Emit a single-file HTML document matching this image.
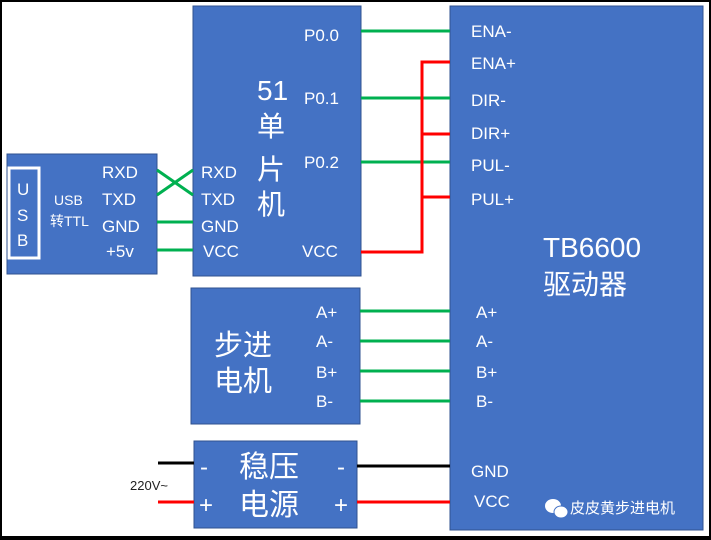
<!DOCTYPE html>
<html><head><meta charset="utf-8"><style>
body{margin:0;width:711px;height:540px;overflow:hidden;background:#fff}
svg{display:block}
text{font-family:"Liberation Sans","Noto Sans CJK SC",sans-serif;fill:#fff}
</style></head><body>
<svg width="711" height="540" viewBox="0 0 711 540">
<rect x="1" y="1" width="709" height="536" fill="#fff" stroke="#000" stroke-width="2"/>
<line x1="0" y1="538" x2="711" y2="538" stroke="#000" stroke-width="4"/>
<g fill="#4472c4" stroke="#2f528f" stroke-width="1">
<rect x="7" y="154" width="150" height="120"/>
<rect x="193" y="6" width="168" height="270"/>
<rect x="450" y="6" width="253" height="524"/>
<rect x="191" y="288" width="169" height="136"/>
<rect x="194" y="441" width="163" height="87"/>
</g>
<rect x="9" y="168" width="30" height="90" fill="none" stroke="#fff" stroke-width="3"/>
<g stroke="#00b050" stroke-width="3" fill="none">
<line x1="157" y1="170" x2="193" y2="195"/><line x1="157" y1="195" x2="193" y2="170"/>
<line x1="157" y1="222" x2="193" y2="222"/><line x1="157" y1="250" x2="193" y2="250"/>
<line x1="361" y1="31" x2="450" y2="31"/><line x1="361" y1="98" x2="450" y2="98"/><line x1="361" y1="162" x2="450" y2="162"/>
<line x1="360" y1="311" x2="450" y2="311"/><line x1="360" y1="341" x2="450" y2="341"/><line x1="360" y1="371" x2="450" y2="371"/><line x1="360" y1="401" x2="450" y2="401"/>
</g>
<g stroke="#ff0000" stroke-width="3" fill="none">
<polyline points="361,252 422,252 422,62 450,62"/>
<line x1="422" y1="134" x2="450" y2="134"/><line x1="422" y1="197" x2="450" y2="197"/>
<line x1="158" y1="502" x2="194" y2="502"/><line x1="357" y1="502" x2="450" y2="502"/>
</g>
<g stroke="#000" stroke-width="3"><line x1="158" y1="463" x2="194" y2="463"/><line x1="357" y1="466" x2="450" y2="466"/></g>
<g font-size="17">
<text x="17" y="195">U</text><text x="17" y="221">S</text><text x="17" y="246">B</text>
<text x="102" y="178">RXD</text><text x="102" y="205">TXD</text><text x="102" y="232">GND</text><text x="106" y="257">+5v</text>
<text x="201" y="178">RXD</text><text x="201" y="205">TXD</text><text x="201" y="232">GND</text><text x="203" y="257">VCC</text>
<text x="304" y="41">P0.0</text><text x="304" y="104">P0.1</text><text x="304" y="168">P0.2</text><text x="302" y="257">VCC</text>
<text x="471" y="37">ENA-</text><text x="471" y="69">ENA+</text><text x="471" y="106">DIR-</text><text x="471" y="139">DIR+</text><text x="471" y="171">PUL-</text><text x="471" y="205">PUL+</text>
<text x="476" y="318">A+</text><text x="476" y="347">A-</text><text x="476" y="378">B+</text><text x="476" y="407">B-</text>
<text x="316" y="318">A+</text><text x="316" y="347">A-</text><text x="316" y="378">B+</text><text x="316" y="407">B-</text>
<text x="471" y="477">GND</text><text x="474" y="507">VCC</text>
</g>
<text x="54" y="205" font-size="14">USB</text><text x="50" y="226" font-size="14">转TTL</text>
<text x="257" y="100" font-size="28">51</text><text x="257" y="136" font-size="28">单</text><text x="257" y="179" font-size="28">片</text><text x="257" y="214" font-size="28">机</text>
<text x="543" y="257" font-size="28">TB6600</text><text x="543" y="294" font-size="28">驱动器</text>
<text x="214" y="355" font-size="29">步进</text><text x="214" y="391" font-size="29">电机</text>
<text x="200" y="475" font-size="24">-</text><text x="337" y="475" font-size="24">-</text>
<text x="199" y="513" font-size="24">+</text><text x="334" y="513" font-size="24">+</text>
<text x="239" y="477" font-size="30">稳压</text><text x="239" y="515" font-size="30">电源</text>
<text x="130" y="490" font-size="13" style="fill:#222">220V~</text>
<g fill="#fff"><ellipse cx="553" cy="506" rx="8" ry="7"/><ellipse cx="561" cy="512" rx="7" ry="6" stroke="#4472c4"/></g>
<text x="570" y="513" font-size="15">皮皮黄步进电机</text>
</svg>
</body></html>
